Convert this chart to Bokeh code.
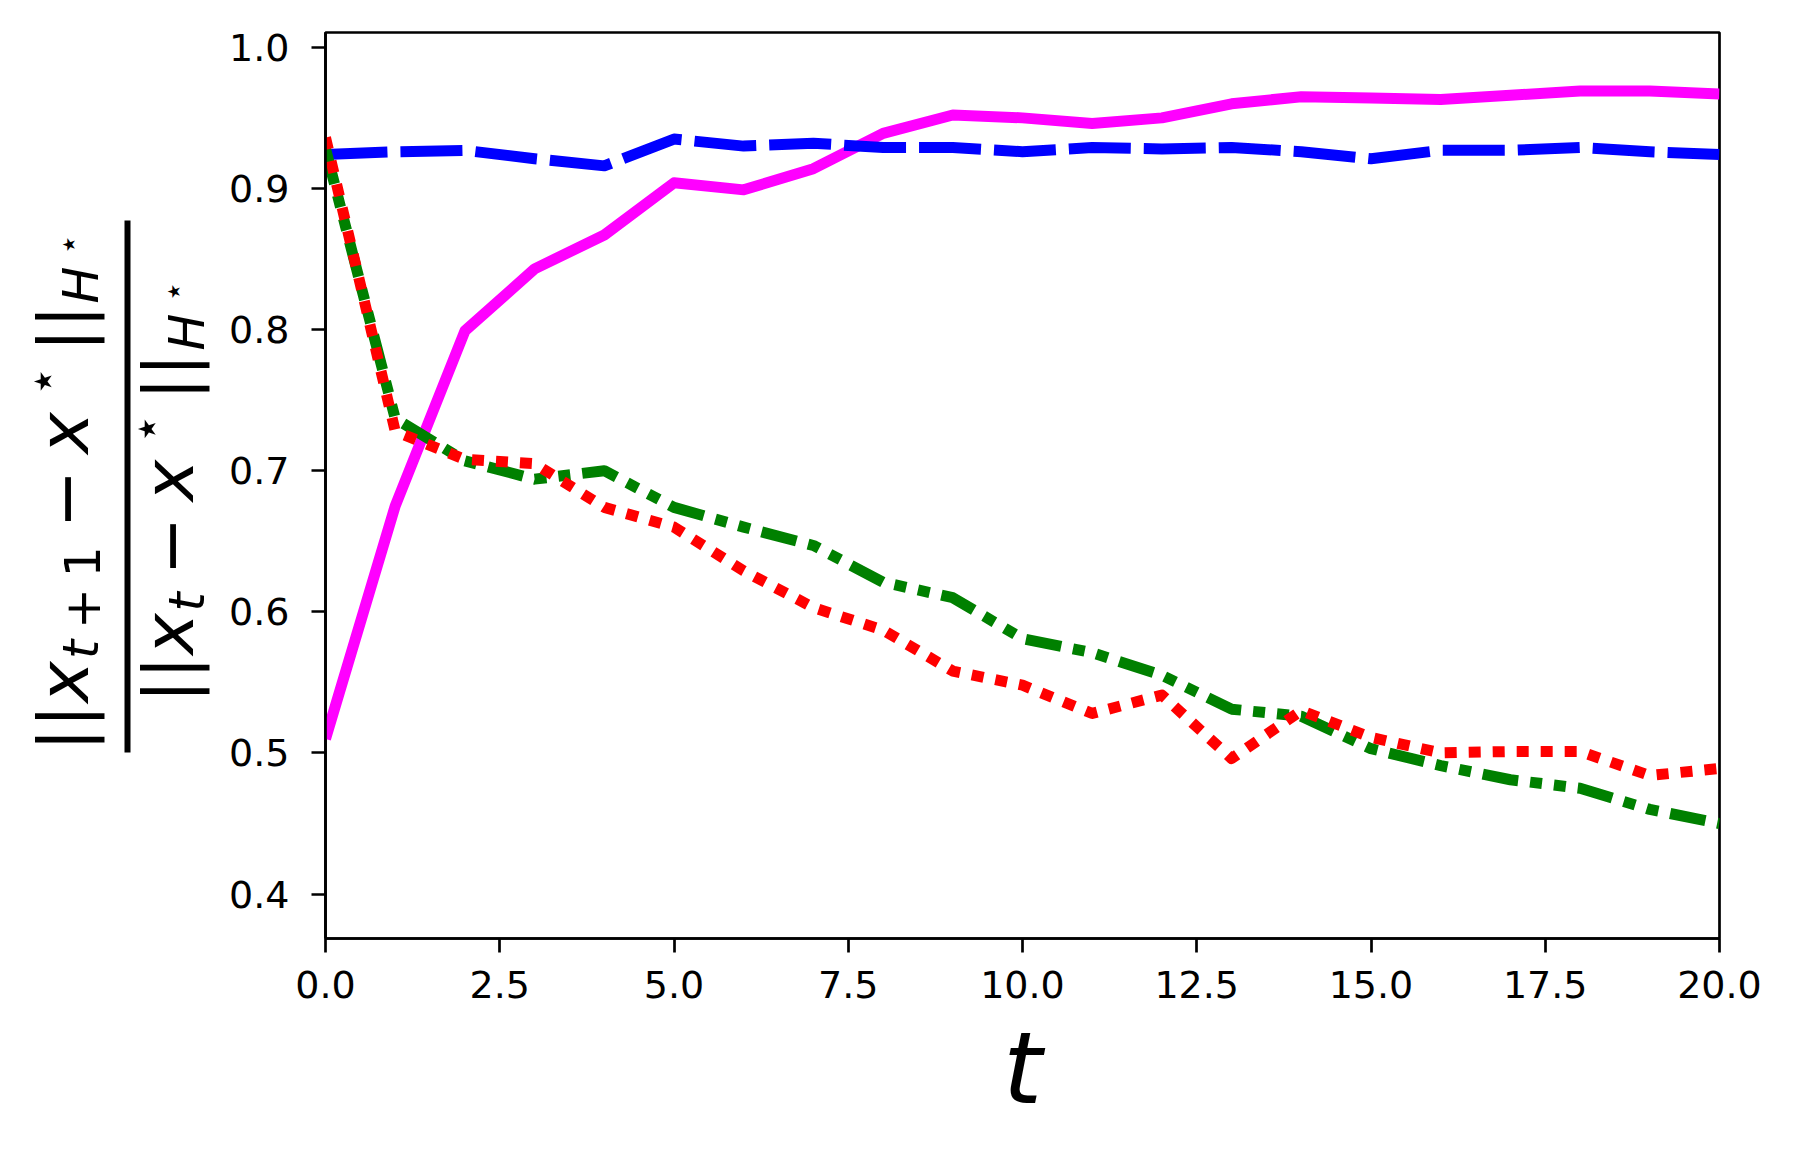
import math
from bokeh.plotting import figure
from bokeh.layouts import row
from bokeh.models import Range1d, FixedTicker
from bokeh.core.properties import value
from bokeh.embed import file_html
from bokeh.resources import INLINE

# ---------------- data ----------------
t = list(range(21))
pink = [0.510, 0.675, 0.799, 0.843, 0.867, 0.904, 0.899, 0.914, 0.939, 0.952, 0.950,
        0.946, 0.950, 0.960, 0.965, 0.964, 0.963, 0.966, 0.969, 0.969, 0.967]
blue = [0.924, 0.926, 0.927, 0.921, 0.916, 0.935, 0.930, 0.932, 0.929, 0.929, 0.926,
        0.929, 0.928, 0.929, 0.926, 0.921, 0.927, 0.927, 0.929, 0.926, 0.924]
green = [0.928, 0.737, 0.707, 0.694, 0.700, 0.674, 0.660, 0.647, 0.621, 0.610, 0.581,
         0.571, 0.555, 0.531, 0.526, 0.503, 0.491, 0.481, 0.475, 0.460, 0.450]
red = [0.936, 0.728, 0.708, 0.705, 0.674, 0.660, 0.629, 0.603, 0.587, 0.558, 0.548,
       0.528, 0.541, 0.496, 0.530, 0.511, 0.500, 0.501, 0.501, 0.484, 0.489]

x_ticks = [0, 2.5, 5, 7.5, 10, 12.5, 15, 17.5, 20]
x_tick_labels = ["0.0", "2.5", "5.0", "7.5", "10.0", "12.5", "15.0", "17.5", "20.0"]
y_ticks = [0.4, 0.5, 0.6, 0.7, 0.8, 0.9, 1.0]
y_tick_labels = ["0.4", "0.5", "0.6", "0.7", "0.8", "0.9", "1.0"]

# ---------------- layout ----------------
TOTAL_W, H = 1780, 1141
LAB_W = 215                      # width of the panel that carries the y label
W = TOTAL_W - LAB_W
FR_L, FR_R, FR_T, FR_B = 325, 1719, 32, 938   # frame edges on the page
L, R, T, B = FR_L - LAB_W, TOTAL_W - FR_R, FR_T, H - FR_B
X0, X1 = 0.0, 20.0
Y0, Y1 = 0.3685, 1.0105
FONT = "DejaVu Sans"

p = figure(width=W, height=H, x_range=Range1d(X0, X1), y_range=Range1d(Y0, Y1),
           output_backend="svg", toolbar_location=None,
           min_border_left=L, min_border_right=R, min_border_top=T, min_border_bottom=B)
p.background_fill_color = "white"
p.border_fill_color = "white"
p.grid.visible = False
p.outline_line_color = "black"
p.outline_line_width = 2.7

for ax in (p.xaxis[0], p.yaxis[0]):
    ax.axis_line_width = 2.7
    ax.axis_line_color = "black"
    ax.major_tick_line_width = 2.7
    ax.major_tick_line_color = "black"
    ax.major_tick_out = 14
    ax.major_tick_in = 0
    ax.minor_tick_line_color = None
    ax.major_label_text_font = FONT
    ax.major_label_text_font_size = "38px"
    ax.major_label_text_color = "black"

p.xaxis.ticker = FixedTicker(ticks=x_ticks)
p.xaxis.major_label_overrides = {k: v for k, v in zip(x_ticks, x_tick_labels)}
p.yaxis.ticker = FixedTicker(ticks=y_ticks)
p.yaxis.major_label_overrides = {k: v for k, v in zip(y_ticks, y_tick_labels)}
p.xaxis.major_label_standoff = 18
p.yaxis.major_label_standoff = 22

p.xaxis.axis_label = "t"
p.xaxis.axis_label_text_font = FONT
p.xaxis.axis_label_text_font_style = "italic"
p.xaxis.axis_label_text_font_size = "100px"
p.xaxis.axis_label_text_color = "black"
p.xaxis.axis_label_standoff = 9

# ---------------- lines ----------------
LW = 11
p.line(t, pink, line_color="#ff00ff", line_width=LW, line_join="round")
p.line(t, blue, line_color="#0000ff", line_width=LW, line_join="round", line_dash="62 13")
p.line(t, green, line_color="#008000", line_width=LW, line_join="round",
       line_dash="36 12 12 12 12 12")
p.line(t, red, line_color="#ff0000", line_width=LW, line_join="round", line_dash="12 12")

# ---------------- y label panel: fraction built from text pieces ----------------
# Its frame spans the same rows as the main frame; data units = page pixels.
lab = figure(width=LAB_W, height=H, x_range=Range1d(0, LAB_W),
             y_range=Range1d(0, FR_B - FR_T),
             output_backend="svg", toolbar_location=None,
             x_axis_type=None, y_axis_type=None,
             min_border_left=0, min_border_right=0, min_border_top=T, min_border_bottom=B)
lab.grid.visible = False
lab.outline_line_color = None
lab.background_fill_color = "white"
lab.border_fill_color = "white"

def ly(page_y):
    return FR_B - page_y

BASE_SHIFT = 0.33   # em offset between Bokeh's rotated-text anchor and the glyph baseline

# (text, baseline page-x, centre page-y, size px, italic)
ylabel_pieces = [
    # numerator  ||x_{t+1} - x^*||_{H^*}
    ("||", 87, 727.5, 70, False),
    ("x", 87, 681.5, 70, True),
    ("t", 97.5, 649, 49, True),
    ("+", 97.5, 608, 49, False),
    ("1", 97.5, 561.5, 49, False),
    ("\u2212", 87, 498.5, 70, False),
    ("x", 87, 432.5, 70, True),
    ("\u22c6", 58, 381, 49, False),
    ("||", 87, 328, 70, False),
    ("H", 97.5, 284.5, 49, True),
    ("\u22c6", 78.5, 244, 34, False),
    # denominator ||x_t - x^*||_{H^*}
    ("||", 192, 679, 70, False),
    ("x", 192, 633.5, 70, True),
    ("t", 203, 601.5, 49, True),
    ("\u2212", 192, 545.5, 70, False),
    ("x", 192, 480, 70, True),
    ("\u22c6", 162, 428.5, 49, False),
    ("||", 192, 376.5, 70, False),
    ("H", 203, 331.5, 49, True),
    ("\u22c6", 183.5, 291, 34, False),
]
for txt, bx, cy, size, italic in ylabel_pieces:
    lab.text(x=[bx - BASE_SHIFT * size], y=[ly(cy)], text=[txt], angle=math.pi / 2,
             text_font=value(FONT), text_font_style="italic" if italic else "normal",
             text_font_size=f"{size}px", text_color="black",
             text_align="center", text_baseline="alphabetic")

# fraction bar
lab.segment(x0=[127], y0=[ly(220)], x1=[127], y1=[ly(752)],
            line_width=6, line_color="black", line_cap="butt")

layout = row(lab, p, spacing=0)
open("out.html", "w").write(file_html(layout, INLINE))
